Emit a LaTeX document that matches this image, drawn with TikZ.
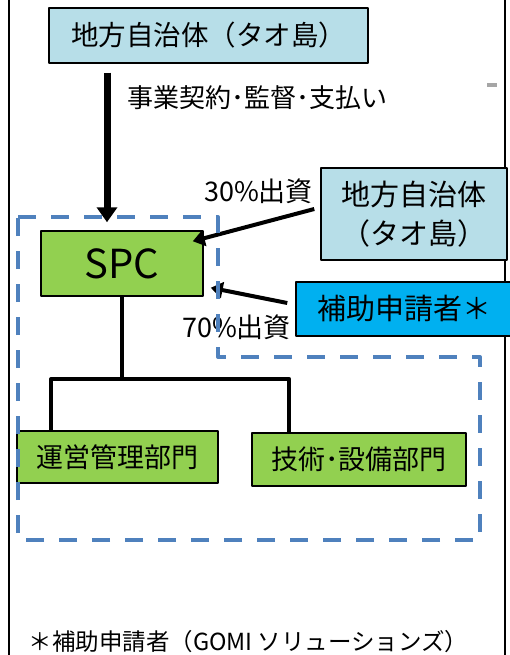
\documentclass[tikz,border=0pt]{standalone}
\usepackage{fontspec}
\setmainfont{Noto Sans CJK JP}
\usetikzlibrary{arrows.meta}
\definecolor{islandblue}{RGB}{183,222,232}
\definecolor{spcgreen}{RGB}{146,208,80}
\definecolor{hojocyan}{RGB}{0,176,240}
\definecolor{spcline}{RGB}{79,129,189}
\definecolor{markgray}{RGB}{166,166,166}
\begin{document}
\begin{tikzpicture}[x=1pt, y=-1pt, line join=round, >={Triangle[length=15pt,width=20pt]},
    box/.style={draw, line width=1.5pt, inner sep=0pt, align=center},
    link/.style={->, line width=4pt, >={Triangle[length=12pt,width=16pt]}},
    lbl/.style={inner sep=0pt, font=\fontsize{26}{30}\selectfont}]
    \useasboundingbox (0,0) rectangle (509,655);
    \draw[line width=1.5pt] (9,-5) -- (9,660) (505,-5) -- (505,660); % 外枠
    \node[box, fill=islandblue, minimum width=319pt, minimum height=55pt, font=\fontsize{27.5}{30}\selectfont] (jichi1) at (208.5,35.5) {地方自治体（タオ島）};
    \node[box, fill=islandblue, minimum width=186pt, minimum height=92pt, font=\fontsize{29}{39}\selectfont] (jichi2) at (414,214) {地方自治体\\（タオ島）};
    \node[box, fill=spcgreen, minimum width=162pt, minimum height=65pt, font=\fontsize{40}{44}\selectfont] (spc) at (122,263.5) {SPC};
    \node[box, fill=hojocyan, minimum width=216pt, minimum height=54pt, font=\fontsize{29}{32}\selectfont] (hojo) at (404,309) {補助申請者＊};
    \node[box, fill=spcgreen, minimum width=201pt, minimum height=52pt, font=\fontsize{27}{30}\selectfont] (unei) at (117.5,457) {運営管理部門};
    \node[box, fill=spcgreen, minimum width=214pt, minimum height=53pt, font=\fontsize{27}{30}\selectfont] (gijutsu) at (359,459.5) {技術･設備部門};
    \node[lbl] (keiyaku) at (257,98) {事業契約･監督･支払い};
    \node[lbl, font=\fontsize{27}{30}\selectfont] (shusshi30) at (258.5,191) {30\%出資};
    \node[lbl, font=\fontsize{27}{30}\selectfont] (shusshi70) at (236.5,327) {70\%出資};
    \node[lbl, font=\fontsize{23.5}{28}\selectfont] (chu) at (248.5,642) {＊補助申請者（GOMI ソリューションズ）};
    \fill[markgray] (487,83) rectangle (497,87);
    \coordinate (bus) at (121,379);
    \draw[line width=4pt] (spc.south) -- (spc.south |- bus);
    \draw[line width=4pt] ([xshift=35pt]unei.north west) |- (bus) -| ([xshift=38pt]gijutsu.north west);
    \draw[->, line width=7pt, shorten <=9pt, shorten >=8pt] (jichi1.south -| 107,0) -- (spc.north -| 107,0);
    \draw[link] ([xshift=-6pt,yshift=5pt]jichi2.west) -- ([xshift=-11pt,yshift=-11pt]spc.north east);
    \draw[link] ([xshift=-8pt,yshift=6pt]hojo.west) -- ([xshift=7pt,yshift=9pt]spc.south east);
    \draw[spcline, line width=4pt, dash pattern=on 18pt off 15pt] (18,217) -- (218,217) -- (218,357) -- (480,357) -- (480,540) -- (18,540) -- cycle; % SPCの範囲
\end{tikzpicture}
\end{document}
